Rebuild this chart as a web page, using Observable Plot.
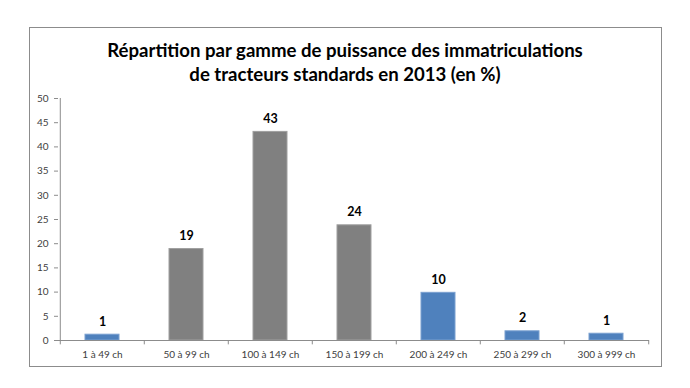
<!DOCTYPE html>
<html><head><meta charset="utf-8">
<script src="https://cdn.jsdelivr.net/npm/d3@7"></script>
<script src="https://cdn.jsdelivr.net/npm/@observablehq/plot@0.6"></script>
<style>
html,body{margin:0;padding:0;background:#fff;width:690px;height:388px;overflow:hidden;}
#frame{position:absolute;left:29px;top:27px;width:633px;height:340px;border:1px solid #8c8c8c;box-sizing:border-box;}
#title{position:absolute;left:0;top:38px;width:690px;text-align:center;font-family:Lato,sans-serif;font-weight:bold;font-size:18.6px;line-height:24px;color:#000;}
#chart{position:absolute;left:0;top:88px;}
</style></head>
<body>
<div id="frame"></div>
<div id="title">Répartition par gamme de puissance des immatriculations<br>de tracteurs standards en 2013 (en %)</div>
<div id="chart"></div>
<script>
const categories = ["1 à 49 ch","50 à 99 ch","100 à 149 ch","150 à 199 ch","200 à 249 ch","250 à 299 ch","300 à 999 ch"];
const values = [1.2, 18.9, 43.1, 23.8, 9.85, 1.9, 1.4];
const labels = ["1","19","43","24","10","2","1"];
const colors = ["#4f81bd","#808080","#808080","#808080","#4f81bd","#4f81bd","#4f81bd"];
const yTicks = [0,5,10,15,20,25,30,35,40,45,50];

const data = categories.map((c,i)=>({cat:c, v:values[i], label:labels[i], color:colors[i]}));
const W = 690, mL = 58, mR = 41;
const step = (W - mL - mR) / categories.length;
const bounds = categories.map((c,i)=>({cat:c, dx:-step/2})).concat([{cat:categories[categories.length-1], dx:step/2}]);

const plot = Plot.plot({
  width: W, height: 282,
  marginLeft: mL, marginRight: mR, marginTop: 10, marginBottom: 30,
  style: {fontFamily: "Lato, sans-serif", fontSize: "10px", color: "#404040", background: "transparent"},
  x: {domain: categories, paddingInner: 0.6, paddingOuter: 0.3, label: null},
  y: {domain: [0,50], label: null},
  marks: [
    Plot.barY(data, {x:"cat", y:"v", fill:"color", stroke: d => d.color === "#808080" ? "#a0a0a0" : "#7aa0d0", strokeWidth: 1}),
    Plot.ruleY([0], {stroke:"#8c8c8c"}),
    Plot.ruleX([0], {x: () => categories[0], dx: -step/2, y1: 0, y2: 50, stroke:"#8c8c8c"}),
    ...bounds.map(b => Plot.ruleX([b], {x:"cat", dx:b.dx, y1:0, y2:-0.9, stroke:"#8c8c8c"})),
    Plot.axisY({ticks: yTicks, tickSize: 4, tickPadding: 6, stroke:"#8c8c8c", anchor:"left", fill:"#404040"}),
    Plot.axisX({tickSize: 0, tickPadding: 10, fill:"#404040"}),
    Plot.text(data, {x:"cat", y:"v", text:"label", dy:-13, fontWeight:"bold", fontSize: 12.5, fill:"#000"})
  ]
});
document.getElementById("chart").appendChild(plot);
</script>
</body></html>
